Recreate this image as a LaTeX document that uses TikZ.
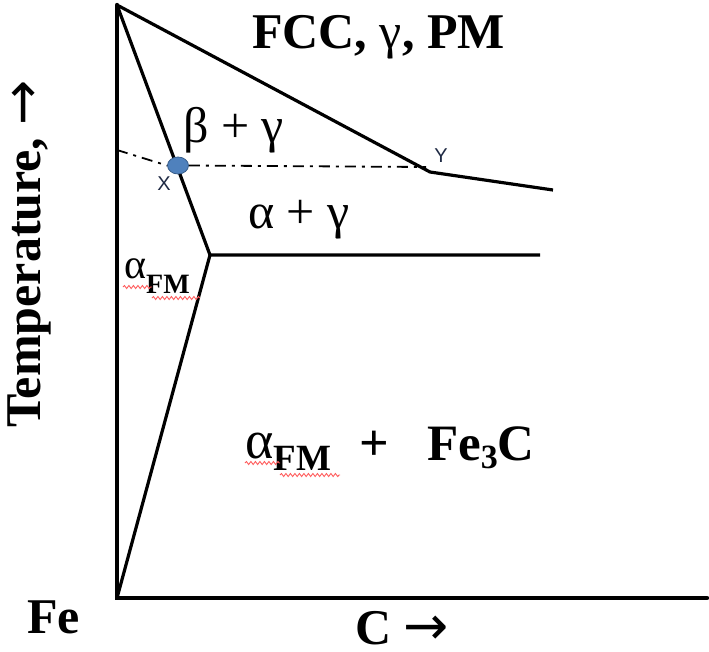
\documentclass[tikz,border=0pt]{standalone}
\usepackage{fontspec}
\setmainfont{Liberation Serif}
\newfontfamily\lsans{Liberation Sans}
\newfontfamily\djv{DejaVu Sans}
\usetikzlibrary{decorations.pathmorphing,shapes.geometric}
\definecolor{dotblue}{HTML}{4F81BD}
\definecolor{dotedge}{HTML}{385D8A}
\definecolor{ptlabel}{HTML}{1F2A44}
\definecolor{squigred}{HTML}{FF5A5A}
\newcommand{\bigarrow}{{\mdseries\djv\fontsize{54}{56}\selectfont\smash{→}}}
\tikzset{
  axisline/.style={line width=4.4pt, line cap=round},
  phase/.style={line width=3.2pt, line join=round},
  tieline/.style={line width=1.8pt, dash pattern=on 11pt off 6pt on 3pt off 6pt},
  lbl/.style={inner sep=0pt, anchor=base west},
  squig/.style={squigred, line width=0.9pt, decorate, decoration={snake, amplitude=1.5pt, segment length=4.5pt}}
}
\begin{document}
\begin{tikzpicture}[x=1pt,y=-1pt]
\useasboundingbox (0,0) rectangle (709,651);
% key points
\coordinate (top) at (117,5);
\coordinate (O) at (117,598);
\coordinate (xend) at (707,598);
\coordinate (Y) at (430,172);
\coordinate (Yend) at (553,190);
\coordinate (J) at (210,255);
\coordinate (Jend) at (540,255);
\coordinate (tieL) at (117,150);
\coordinate (tieR) at (426,167);
% axes
\draw[axisline] (top) -- (O) -- (xend);
% phase boundaries
\draw[phase] (top) -- (Y) -- (Yend);
\draw[phase] (top) -- (J) -- (Jend);
\draw[phase] (J) -- (O);
% tie line and point X
\node[ellipse, minimum width=21pt, minimum height=17pt, inner sep=0pt, fill=dotblue, draw=dotedge, line width=0.8pt] (X) at (178,165.5) {};
\draw[tieline] (tieL) -- (X.west);
\draw[tieline] (X.east) -- (tieR);
\node[lbl, anchor=base, font=\lsans\fontsize{20}{22}\selectfont, text=ptlabel] (xl) at (164,190) {X};
\node[lbl, anchor=base, font=\lsans\fontsize{20}{22}\selectfont, text=ptlabel] (yl) at (441,162) {Y};
% region labels
\node[lbl, font=\bfseries\fontsize{50}{56}\selectfont] (fcc) at (252,48) {FCC, \textmd{γ}, PM};
\node[lbl, font=\fontsize{50}{54}\selectfont] (bg) at (183,142) {β + γ};
\node[lbl, font=\fontsize{50}{54}\selectfont] (ag) at (248,228) {α + γ};
\node[lbl, font=\fontsize{42}{46}\selectfont] (afm) at (124,278) {α\raisebox{-15pt}{\bfseries\fontsize{28}{30}\selectfont FM}};
\node[lbl, font=\fontsize{54}{56}\selectfont] (mix) at (245,458) {α\raisebox{-12pt}{\bfseries\fontsize{37}{40}\selectfont FM}};
\node[lbl, font=\bfseries\fontsize{52}{56}\selectfont] (plus) at (359,460) {+};
\node[lbl, font=\bfseries\fontsize{51}{56}\selectfont] (fe3c) at (427,460) {Fe\raisebox{-8pt}{\fontsize{34}{36}\selectfont 3}C};
% spell-check squiggles
\draw[squig] (123,287) -- (152,287);
\draw[squig] (152,298) -- (200,298);
\draw[squig] (245,463) -- (280,463);
\draw[squig] (280,475) -- (340,475);
% axis labels
\node[lbl, rotate=90, font=\bfseries\fontsize{50}{56}\selectfont] (temp) at (40,428) {Temperature, \bigarrow};
\node[lbl, font=\bfseries\fontsize{50}{56}\selectfont] (fe) at (27,633) {Fe};
\node[lbl, font=\bfseries\fontsize{50}{56}\selectfont] (c) at (355,644) {C \bigarrow};
\end{tikzpicture}
\end{document}
